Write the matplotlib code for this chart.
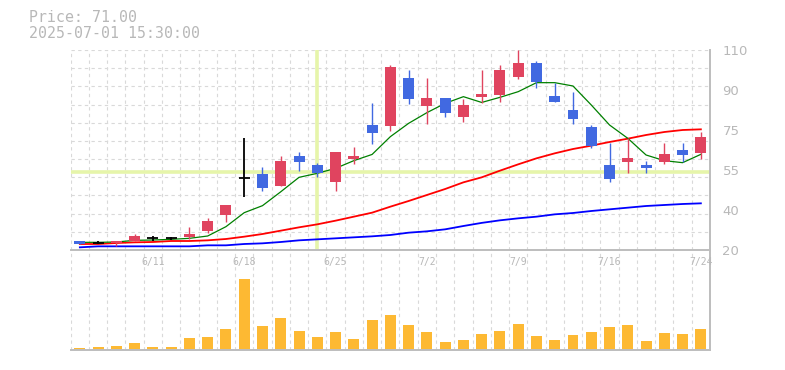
import numpy as np
import matplotlib.pyplot as plt

# trading days shown on the chart
dates = ["6/5", "6/6", "6/9", "6/10", "6/11", "6/12", "6/13", "6/16", "6/17", "6/18",
         "6/19", "6/20", "6/23", "6/24", "6/25", "6/26", "6/27", "6/30", "7/1", "7/2",
         "7/3", "7/4", "7/7", "7/8", "7/9", "7/10", "7/11", "7/14", "7/15", "7/16",
         "7/17", "7/18", "7/22", "7/23", "7/24"]
label_dates = ["6/11", "6/18", "6/25", "7/2", "7/9", "7/16", "7/24"]

opens = [24.0, 23.3, 23.0, 23.9, 25.3, 25.3, 25.9, 28.6, 35.9, 52.4,
         54.2, 49.0, 62.3, 58.2, 50.8, 61.0, 76.2, 76.0, 97.4, 85.0,
         88.4, 80.0, 89.0, 89.9, 98.0, 104.1, 89.3, 83.0, 75.3, 58.2,
         59.8, 58.2, 59.8, 65.0, 63.8]
highs = [24.0, 24.0, 24.0, 27.2, 26.3, 26.0, 30.3, 34.4, 40.2, 70.3,
         57.3, 62.3, 64.1, 59.3, 64.1, 66.3, 86.1, 103.2, 101.0, 97.4,
         88.4, 88.1, 101.0, 103.2, 110.0, 105.0, 95.3, 91.2, 76.2, 68.1,
         70.3, 60.0, 68.1, 68.1, 73.1]
lows = [22.8, 22.7, 21.8, 23.9, 23.9, 24.5, 25.0, 27.5, 32.6, 44.0,
        46.7, 49.0, 55.7, 53.0, 46.7, 58.7, 67.8, 73.7, 85.8, 76.8,
        80.0, 77.7, 86.0, 86.7, 97.1, 93.0, 86.7, 76.8, 66.0, 50.7,
        54.8, 54.8, 58.7, 59.8, 61.0]
closes = [22.8, 23.3, 24.0, 26.3, 25.3, 25.3, 27.2, 33.0, 40.2, 52.4,
          48.0, 60.0, 59.8, 54.8, 64.1, 62.3, 72.8, 102.3, 88.1, 88.4,
          81.8, 85.4, 90.2, 101.0, 104.1, 95.6, 86.7, 79.1, 66.8, 52.1,
          61.4, 57.0, 63.2, 62.8, 71.0]

ma_short = [23.45, 23.45, 23.6, 24.35, 24.5, 24.8, 25.25, 26.3, 30.5, 36.8,
            39.95, 46.2, 52.7, 54.5, 56.75, 60.2, 63.0, 71.0, 77.0, 81.8,
            86.0, 89.0, 86.4, 88.7, 91.25, 95.3, 95.3, 93.8, 85.25, 76.25,
            70.25, 62.75, 60.2, 59.3, 63.05]
ma_mid = [22.7, 22.7, 23.15, 23.45, 23.6, 24.05, 24.05, 24.35, 24.95, 26.0,
          27.2, 28.7, 30.2, 31.55, 33.2, 35.0, 36.8, 39.5, 42.05, 44.75,
          47.45, 50.45, 52.7, 55.7, 58.55, 61.25, 63.5, 65.45, 66.95, 68.6,
          70.1, 71.75, 73.1, 74.0, 74.3]
ma_long = [21.2, 21.65, 21.65, 21.65, 21.65, 21.65, 21.65, 22.1, 22.1, 22.7,
           23.0, 23.6, 24.35, 24.8, 25.25, 25.7, 26.15, 26.75, 27.8, 28.4,
           29.3, 30.8, 32.2, 33.35, 34.25, 35.0, 36.05, 36.65, 37.55, 38.3,
           39.05, 39.8, 40.25, 40.7, 41.0]

volume = [2, 3, 4, 7, 3, 3, 12, 13, 21, 71,
          24, 32, 19, 13, 18, 11, 30, 35, 25, 18,
          8, 10, 16, 19, 26, 14, 10, 15, 18, 23,
          25, 9, 17, 16, 21]

price_ticks = ["20", "40", "55", "75", "90", "110"]
cross_date = "6/24"
cross_price = 55.0
header = ["Price: 71.00", "2025-07-01 15:30:00"]

UP = "#e0445f"
DOWN = "#4169e1"
GRID = "#d9d9d9"
AXIS = "#bdbdbd"
TXT = "#b8b8b8"
CROSS = "#e6f5aa"

n = len(dates)
x = np.arange(n)
o = np.array(opens); c = np.array(closes)
h = np.array(highs); l = np.array(lows)

fig = plt.figure(figsize=(7.85, 3.7), dpi=100)
axv = fig.add_axes([70.7 / 785, 20 / 370, 639.3 / 785, 99 / 370])
ax = fig.add_axes([70.7 / 785, 120 / 370, 639.3 / 785, 200 / 370])
ax.set_zorder(5)

for a in (ax, axv):
    a.patch.set_visible(False)
    a.set_xlim(-0.5, n - 0.5)
    for s in ("top", "left"):
        a.spines[s].set_visible(False)
    for s in ("bottom", "right"):
        a.spines[s].set_color(AXIS)
        a.spines[s].set_linewidth(1.4)
    for gx in np.arange(n + 1) - 0.5:
        a.axvline(gx, color=GRID, lw=0.8, ls=(0, (3, 3)), zorder=0)

# price panel
ax.set_ylim(20, 110)
for gy in np.linspace(20, 110, 12):
    ax.axhline(gy, color=GRID, lw=0.8, ls=(0, (3, 3)), zorder=0)

ax.axhline(cross_price, color=CROSS, lw=2.6, zorder=1)
ax.axvline(dates.index(cross_date), color=CROSS, lw=2.6, zorder=1)

ax.plot(x, ma_long, color="#0000ff", lw=1.3, zorder=2)
ax.plot(x, ma_mid, color="#ff0000", lw=1.3, zorder=2)
ax.plot(x, ma_short, color="#008000", lw=0.9, zorder=2)

doji = o == c
up = c > o
cols = np.where(up, UP, DOWN)
ax.vlines(x[~doji], l[~doji], h[~doji], colors=cols[~doji], lw=1.0, zorder=3)
ax.bar(x[~doji], np.abs(c - o)[~doji], bottom=np.minimum(o, c)[~doji], width=0.6,
       color=cols[~doji], zorder=4)
ax.vlines(x[doji], l[doji], h[doji], colors="black", lw=1.3, zorder=4)
ax.hlines(o[doji], x[doji] - 0.3, x[doji] + 0.3, colors="black", lw=1.3, zorder=4)

ax.yaxis.tick_right()
ax.set_yticks(np.linspace(20, 110, len(price_ticks)))
ax.set_yticklabels(price_ticks, fontsize=9.5, color=TXT, family="DejaVu Sans")
ax.tick_params(axis="y", length=0, pad=9)
for t in ax.get_yticklabels():
    t.set_horizontalalignment("left")
    t.set_verticalalignment("center_baseline")

ax.set_xticks([dates.index(d) for d in label_dates])
ax.set_xticklabels(label_dates, fontsize=7, color=TXT, family="DejaVu Sans Mono")
ax.tick_params(axis="x", length=0, pad=5)

# volume panel
axv.bar(x, volume, width=0.6, color="#fdb933", zorder=2)
axv.set_ylim(0, max(volume) * 99 / 71)
axv.set_xticks([])
axv.set_yticks([])

fig.text(29 / 785, 1 - 17.5 / 370, header[0], fontsize=10.7, color=TXT,
         family="DejaVu Sans Mono", va="center")
fig.text(29 / 785, 1 - 33.5 / 370, header[1], fontsize=10.7, color=TXT,
         family="DejaVu Sans Mono", va="center")

fig.savefig("out.png", dpi=100, facecolor="white")
